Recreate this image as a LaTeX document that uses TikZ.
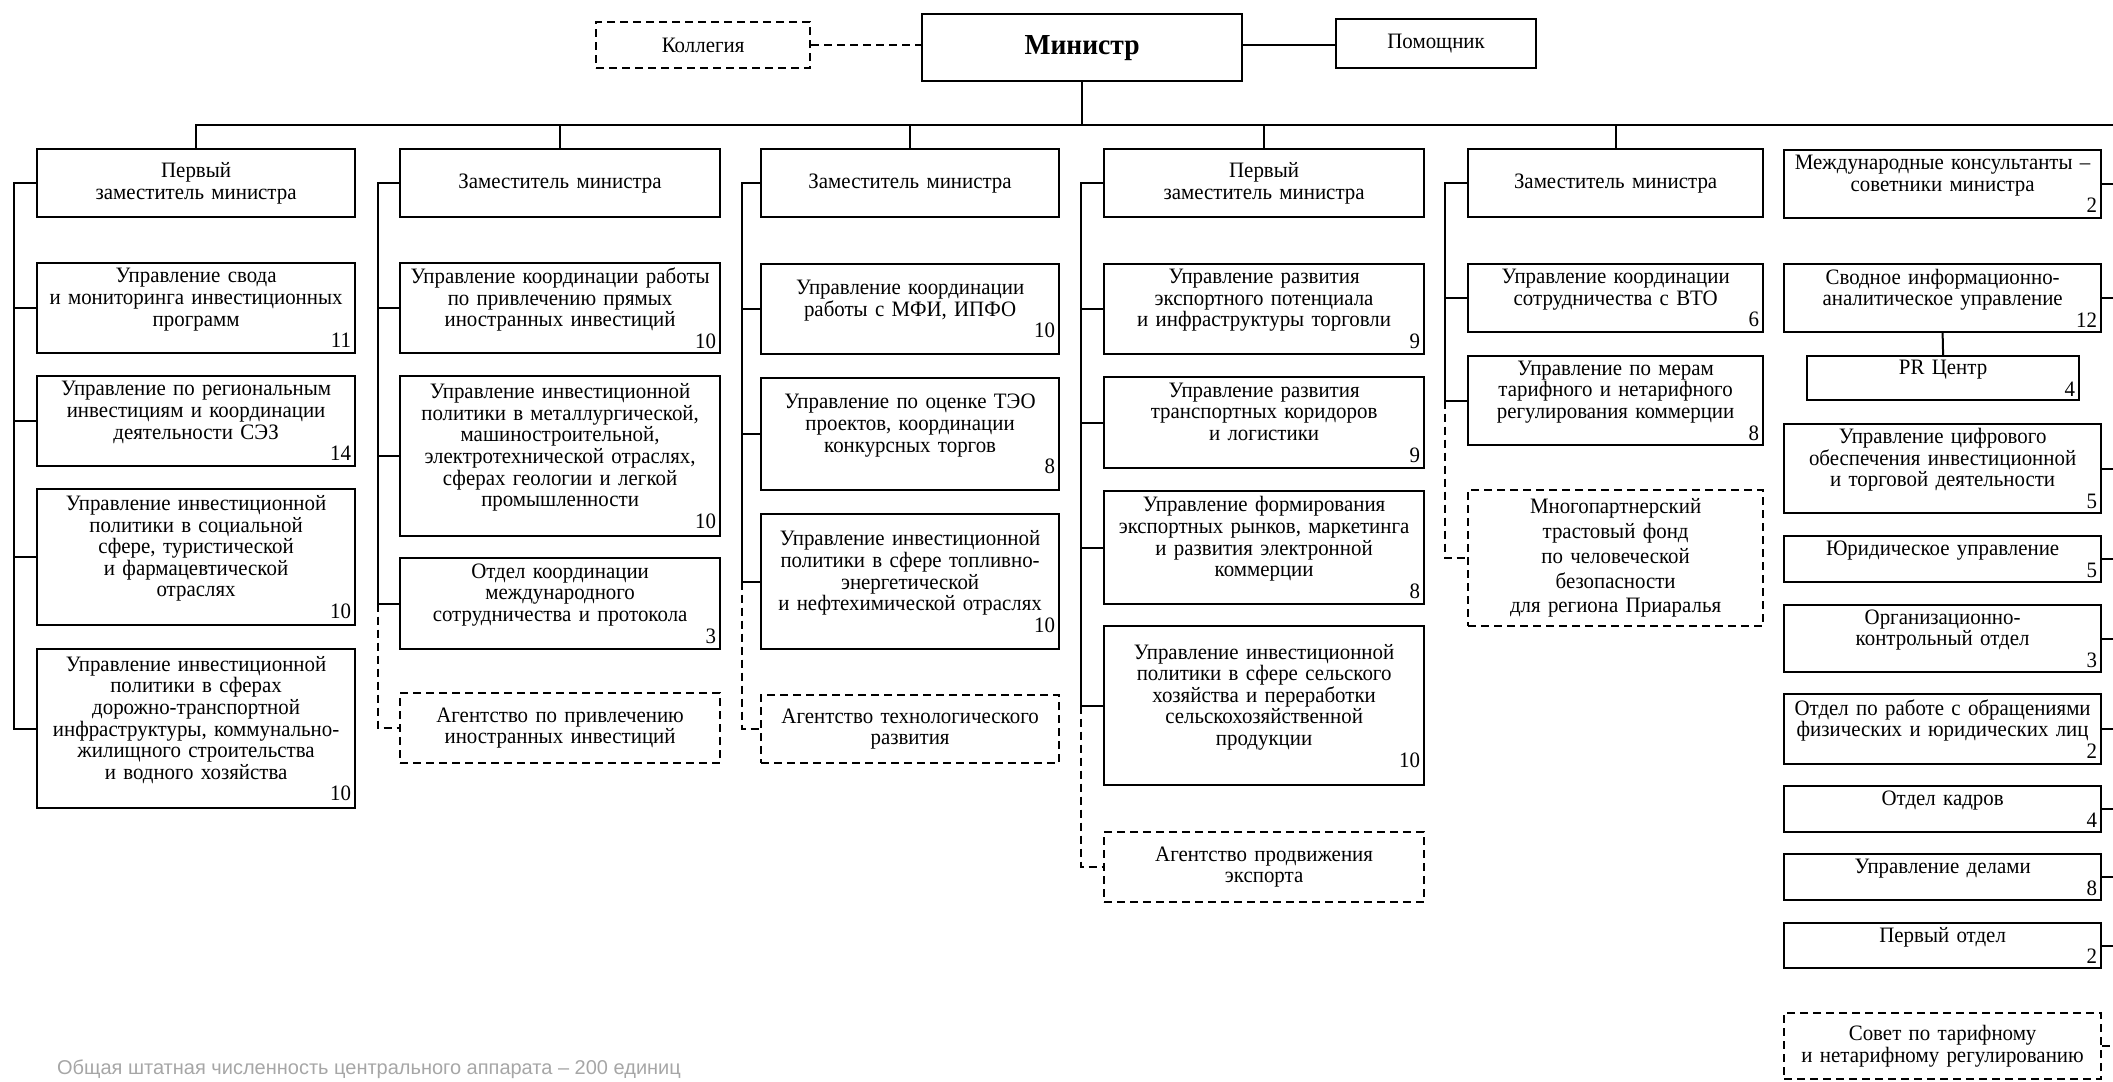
\documentclass[tikz,border=0pt]{standalone}
\usepackage{fontspec}
\setmainfont[FakeStretch=0.95]{Liberation Serif}
\newfontfamily\notefont{Liberation Sans}
\usetikzlibrary{positioning}
\newcommand{\shtat}[1]{\mbox{}\hfill #1}
\tikzset{unit/.style={draw, line width=1.1pt, anchor=north west, align=center, inner xsep=2pt, inner ysep=0.5pt, font=\fontsize{11}{10.8}\selectfont},
  agency/.style={unit, dash pattern=on 4pt off 2.5pt},
  wa/.style={minimum width=159pt, text width=155pt},
  wb/.style={minimum width=160pt, text width=156pt},
  wc/.style={minimum width=149pt, text width=145pt},
  wd/.style={minimum width=147.5pt, text width=143.5pt},
  we/.style={minimum width=158.5pt, text width=154.5pt},
  link/.style={line width=1pt}, dlink/.style={link, dash pattern=on 4pt off 2.5pt}}

\begin{document}
\begin{tikzpicture}[x=0.5pt, y=-0.5pt]
    \useasboundingbox (0,0) rectangle (2113,1081);
    % top
    \node[agency, minimum width=107pt, text width=103pt, minimum height=23pt] (kol) at (595,21) {Коллегия};
    \node[unit, wb, minimum height=33.5pt, font=\fontsize{14.5}{16}\selectfont\bfseries] (min) at (921,13) {Министр};
    \node[unit, minimum width=100pt, text width=96pt, minimum height=24.5pt] (pom) at (1335,18) {Помощник};
    % column 1
    \node[unit, wa, minimum height=34pt] (h1) at (36,148) {Первый\\заместитель министра};
    \node[unit, wa, minimum height=45pt] (c1a) at (36,262) {Управление свода\\и мониторинга инвестиционных\\программ\\\shtat{11}};
    \node[unit, wa, minimum height=45pt] (c1b) at (36,375) {Управление по региональным\\инвестициям и координации\\деятельности СЭЗ\\\shtat{14}};
    \node[unit, wa, minimum height=68pt] (c1c) at (36,488) {Управление инвестиционной\\политики в социальной\\сфере, туристической\\и фармацевтической\\отраслях\\\shtat{10}};
    \node[unit, wa, minimum height=79.5pt] (c1d) at (36,648) {Управление инвестиционной\\политики в сферах\\дорожно-транспортной\\инфраструктуры, коммунально-\\жилищного строительства\\и водного хозяйства\\\shtat{10}};
    % column 2
    \node[unit, wb, minimum height=34pt] (h2) at (399,148) {Заместитель министра};
    \node[unit, wb, minimum height=45pt] (c2a) at (399,262) {Управление координации работы\\по привлечению прямых\\иностранных инвестиций\\\shtat{10}};
    \node[unit, wb, minimum height=80pt] (c2b) at (399,375) {Управление инвестиционной\\политики в металлургической,\\машиностроительной,\\электротехнической отраслях,\\сферах геологии и легкой\\промышленности\\\shtat{10}};
    \node[unit, wb, minimum height=45.5pt] (c2c) at (399,557) {Отдел координации\\международного\\сотрудничества и протокола\\\shtat{3}};
    \node[agency, wb, minimum height=35pt] (c2d) at (399,692) {Агентство по привлечению\\иностранных инвестиций};
    % column 3
    \node[unit, wc, minimum height=34pt] (h3) at (760,148) {Заместитель министра};
    \node[unit, wc, minimum height=45pt] (c3a) at (760,263) {Управление координации\\работы с МФИ, ИПФО\\\shtat{10}};
    \node[unit, wc, minimum height=56pt] (c3b) at (760,377) {Управление по оценке ТЭО\\проектов, координации\\конкурсных торгов\\\shtat{8}};
    \node[unit, wc, minimum height=67.5pt] (c3c) at (760,513) {Управление инвестиционной\\политики в сфере топливно-\\энергетической\\и нефтехимической отраслях\\\shtat{10}};
    \node[agency, wc, minimum height=34pt] (c3d) at (760,694) {Агентство технологического\\развития};
    % column 4
    \node[unit, wb, minimum height=34pt] (h4) at (1103,148) {Первый\\заместитель министра};
    \node[unit, wb, minimum height=45pt] (c4a) at (1103,263) {Управление развития\\экспортного потенциала\\и инфраструктуры торговли\\\shtat{9}};
    \node[unit, wb, minimum height=45.5pt] (c4b) at (1103,376) {Управление развития\\транспортных коридоров\\и логистики\\\shtat{9}};
    \node[unit, wb, minimum height=56.5pt] (c4c) at (1103,490) {Управление формирования\\экспортных рынков, маркетинга\\и развития электронной\\коммерции\\\shtat{8}};
    \node[unit, wb, minimum height=79.5pt] (c4d) at (1103,625) {Управление инвестиционной\\политики в сфере сельского\\хозяйства и переработки\\сельскохозяйственной\\продукции\\\shtat{10}};
    \node[agency, wb, minimum height=35pt] (c4e) at (1103,831) {Агентство продвижения\\экспорта};
    % column 5
    \node[unit, wd, minimum height=34pt] (h5) at (1467,148) {Заместитель министра};
    \node[unit, wd, minimum height=34pt] (c5a) at (1467,263) {Управление координации\\сотрудничества с ВТО\\\shtat{6}};
    \node[unit, wd, minimum height=44.5pt] (c5b) at (1467,355) {Управление по мерам\\тарифного и нетарифного\\регулирования коммерции\\\shtat{8}};
    \node[agency, wd, minimum height=68pt, font=\fontsize{11}{12.4}\selectfont] (c5c) at (1467,489) {Многопартнерский\\трастовый фонд\\по человеческой\\безопасности\\для региона Приаралья};
    % column 6
    \node[unit, we, minimum height=34pt] (h6) at (1783,149) {Международные консультанты –\\советники министра\\\shtat{2}};
    \node[unit, we, minimum height=34pt] (c6a) at (1783,263) {Сводное информационно-\\аналитическое управление\\\shtat{12}};
    \node[unit, minimum width=136pt, text width=132pt, minimum height=22pt] (pr) at (1806,355) {PR Центр\\\shtat{4}};
    \node[unit, we, minimum height=44.5pt] (c6b) at (1783,423) {Управление цифрового\\обеспечения инвестиционной\\и торговой деятельности\\\shtat{5}};
    \node[unit, we, minimum height=23pt] (c6c) at (1783,535) {Юридическое управление\\\shtat{5}};
    \node[unit, we, minimum height=33.5pt] (c6d) at (1783,604) {Организационно-\\контрольный отдел\\\shtat{3}};
    \node[unit, we, minimum height=35pt] (c6e) at (1783,693) {Отдел по работе с обращениями\\физических и юридических лиц\\\shtat{2}};
    \node[unit, we, minimum height=23pt] (c6f) at (1783,785) {Отдел кадров\\\shtat{4}};
    \node[unit, we, minimum height=23pt] (c6g) at (1783,853) {Управление делами\\\shtat{8}};
    \node[unit, we, minimum height=22.5pt] (c6h) at (1783,922) {Первый отдел\\\shtat{2}};
    \node[agency, we, minimum height=33pt] (c6i) at (1783,1012) {Совет по тарифному\\и нетарифному регулированию};
    \node[anchor=base west, text=black!35, font=\notefont\fontsize{10}{10}\selectfont] (note) at (50,1074) {Общая штатная численность центрального аппарата – 200 единиц};
    % buses
    \coordinate (busL) at (195,125);
    \coordinate (busR) at (2125,125);
    \coordinate (b1) at (14,0);
    \coordinate (b2) at (378,0);
    \coordinate (b3) at (742,0);
    \coordinate (b4) at (1081,0);
    \coordinate (b5) at (1445,0);
    \coordinate (b6) at (2125,0);
    \draw[dlink] (kol.east) -- (kol.east -| min.west);
    \draw[link] (min.east |- kol.east) -- (pom.west |- kol.east);
    \draw[link] (min.south) -- (min.south |- busL);
    \draw[link] (busL) -- (busR) -- (b6 |- c6h.east);
    \draw[dlink] (b6 |- c6h.east) -- (b6 |- c6i.east);
    \draw[link] (h1.north) -- (h1.north |- busL);
    \draw[link] (h2.north) -- (h2.north |- busL);
    \draw[link] (h3.north) -- (h3.north |- busL);
    \draw[link] (h4.north) -- (h4.north |- busL);
    \draw[link] (h5.north) -- (h5.north |- busL);
    % column 1
    \draw[link] (h1.west) -| (b1 |- c1d.west) -- (c1d.west);
    \draw[link] (c1a.west) -- (c1a.west -| b1);
    \draw[link] (c1b.west) -- (c1b.west -| b1);
    \draw[link] (c1c.west) -- (c1c.west -| b1);
    % column 2
    \draw[link] (h2.west) -| (b2 |- c2c.west) -- (c2c.west);
    \draw[link] (c2a.west) -- (c2a.west -| b2);
    \draw[link] (c2b.west) -- (c2b.west -| b2);
    \draw[dlink] (b2 |- c2c.west) |- (c2d.west);
    % column 3
    \draw[link] (h3.west) -| (b3 |- c3c.west) -- (c3c.west);
    \draw[link] (c3a.west) -- (c3a.west -| b3);
    \draw[link] (c3b.west) -- (c3b.west -| b3);
    \draw[dlink] (b3 |- c3c.west) |- (c3d.west);
    % column 4
    \draw[link] (h4.west) -| (b4 |- c4d.west) -- (c4d.west);
    \draw[link] (c4a.west) -- (c4a.west -| b4);
    \draw[link] (c4b.west) -- (c4b.west -| b4);
    \draw[link] (c4c.west) -- (c4c.west -| b4);
    \draw[dlink] (b4 |- c4d.west) |- (c4e.west);
    % column 5
    \draw[link] (h5.west) -| (b5 |- c5b.west) -- (c5b.west);
    \draw[link] (c5a.west) -- (c5a.west -| b5);
    \draw[dlink] (b5 |- c5b.west) |- (c5c.west);
    % column 6
    \draw[link] (c6a.south) -- (pr.north);
    \draw[link] (h6.east) -- (h6.east -| b6);
    \draw[link] (c6a.east) -- (c6a.east -| b6);
    \draw[link] (c6b.east) -- (c6b.east -| b6);
    \draw[link] (c6c.east) -- (c6c.east -| b6);
    \draw[link] (c6d.east) -- (c6d.east -| b6);
    \draw[link] (c6e.east) -- (c6e.east -| b6);
    \draw[link] (c6f.east) -- (c6f.east -| b6);
    \draw[link] (c6g.east) -- (c6g.east -| b6);
    \draw[link] (c6h.east) -- (c6h.east -| b6);
    \draw[dlink] (c6i.east) -- (c6i.east -| b6);
\end{tikzpicture}
\end{document}
